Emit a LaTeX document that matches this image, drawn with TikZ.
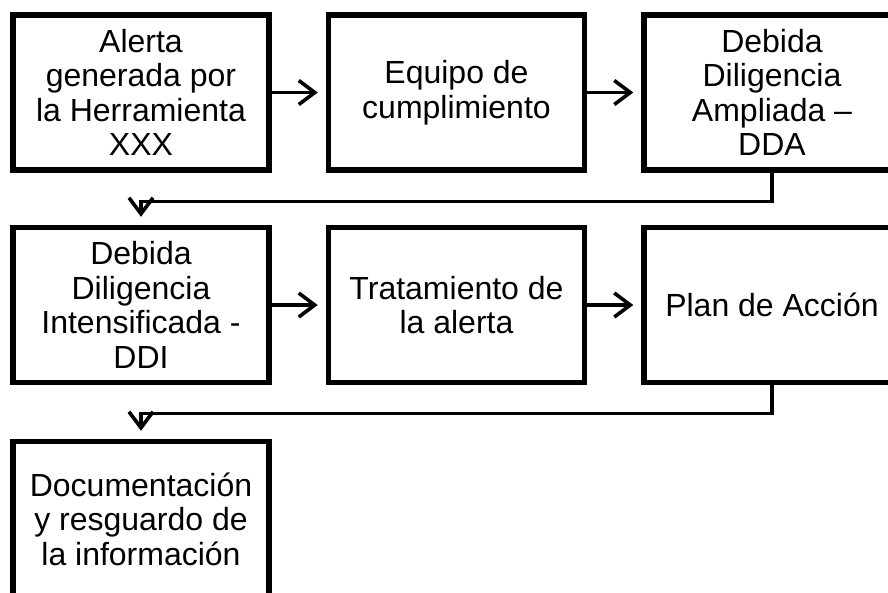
\documentclass[tikz,border=0pt]{standalone}
\usepackage{fontspec}
\setmainfont{Liberation Sans}
\usetikzlibrary{arrows.meta}
\begin{document}
\begin{tikzpicture}[x=1pt,y=-1pt,
    box/.style={draw,line width=5.5pt,minimum width=256pt,minimum height=155pt,inner sep=0pt,align=center,font=\fontsize{32}{34.5}\selectfont},
    link/.style={line width=3.3pt,-{Straight Barb[length=16pt,width=24pt,line width=3.6pt]}}]
    \useasboundingbox (0,0) rectangle (888,592);
    \clip (0,0) rectangle (888,592);
    \node[box] (alerta) at (141,92.5) {Alerta\\generada por\\la Herramienta\\XXX};
    \node[box] (equipo) at (456.5,92.5) {Equipo de\\cumplimiento};
    \node[box] (dda) at (772,92.5) {Debida\\Diligencia\\Ampliada --\\DDA};
    \node[box] (ddi) at (141,305) {Debida\\Diligencia\\Intensificada -\\DDI};
    \node[box] (tratamiento) at (456.5,305) {Tratamiento de\\la alerta};
    \node[box] (plan) at (772,305) {Plan de Acción};
    \node[box] (docu) at (141,519) {Documentación\\y resguardo de\\la información};
    \draw[link,shorten >=8pt] (alerta.east) -- (equipo.west);
    \draw[link,shorten >=8pt] (equipo.east) -- (dda.west);
    \draw[link,shorten >=8pt] (dda.south) -- ++(0,29) -| (ddi.north);
    \draw[link,shorten >=8pt] (ddi.east) -- (tratamiento.west);
    \draw[link,shorten >=8pt] (tratamiento.east) -- (plan.west);
    \draw[link,shorten >=8pt] (plan.south) -- ++(0,28) -| (docu.north);
\end{tikzpicture}
\end{document}
